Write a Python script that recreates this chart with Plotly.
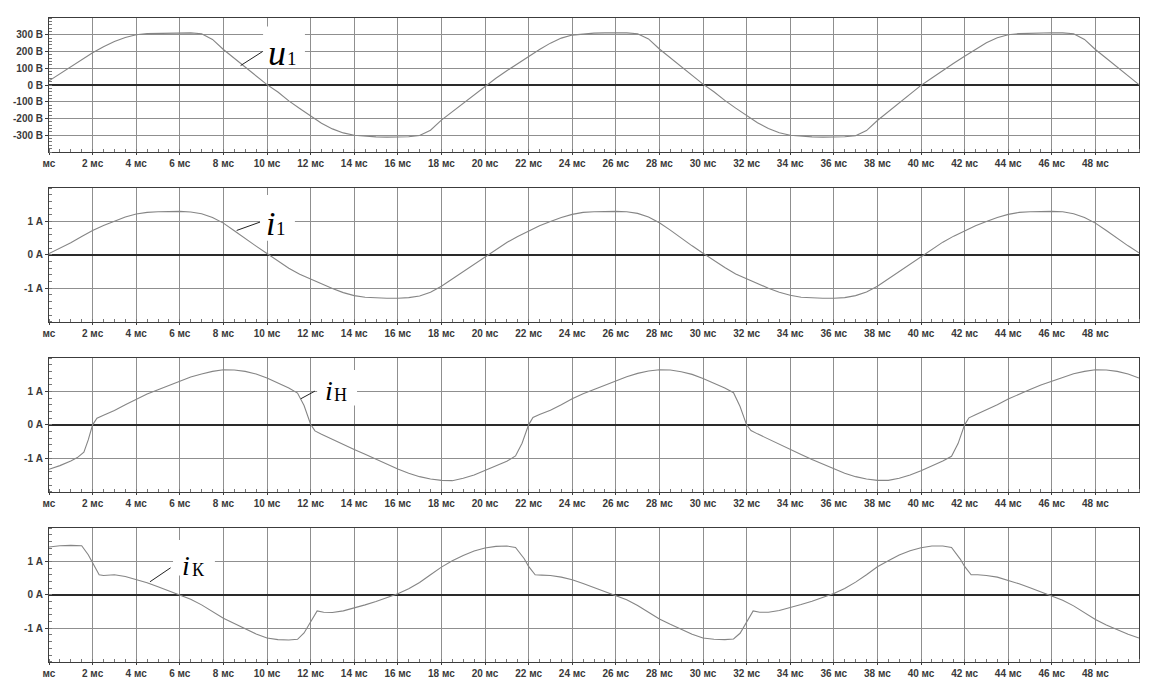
import plotly.graph_objects as go

# ---------------- data ----------------
t_u1 = [i * 0.5 for i in range(101)]
u1 = [25, 68, 110, 150, 192, 228, 260, 284, 300, 307, 309, 311, 312, 311, 306, 272, 212, 160, 110, 55,
      2, -42, -95, -140, -185, -228, -262, -286, -300, -307, -310, -311, -310, -309, -302, -270, -210, -160, -108, -55,
      -5, 40, 85, 128, 170, 212, 250, 280, 298, 306, 310, 311, 312, 311, 306, 275, 215, 162, 110, 58,
      5, -40, -92, -138, -182, -225, -260, -285, -300, -307, -310, -311, -310, -309, -303, -272, -212, -160, -108, -55,
      -2, 42, 88, 130, 172, 214, 252, 282, 300, 307, 310, 311, 312, 311, 306, 272, 212, 160, 108, 55, 2]

t_i1 = [i * 0.5 for i in range(101)]
i1 = [0.04, 0.19, 0.36, 0.55, 0.73, 0.88, 1.01, 1.13, 1.22, 1.27, 1.29, 1.30, 1.30, 1.28, 1.23, 1.12, 0.95, 0.72, 0.48, 0.26,
      0.04, -0.18, -0.40, -0.58, -0.73, -0.88, -1.01, -1.13, -1.22, -1.27, -1.29, -1.30, -1.30, -1.28, -1.23, -1.12, -0.94, -0.72, -0.50, -0.27,
      -0.05, 0.17, 0.37, 0.55, 0.71, 0.87, 1.00, 1.12, 1.21, 1.27, 1.29, 1.30, 1.30, 1.29, 1.24, 1.13, 0.96, 0.74, 0.50, 0.27,
      0.05, -0.17, -0.38, -0.57, -0.72, -0.87, -1.00, -1.12, -1.21, -1.27, -1.29, -1.30, -1.30, -1.28, -1.22, -1.11, -0.94, -0.72, -0.49, -0.27,
      -0.04, 0.18, 0.38, 0.56, 0.72, 0.87, 1.00, 1.12, 1.21, 1.27, 1.29, 1.30, 1.30, 1.29, 1.23, 1.12, 0.95, 0.73, 0.49, 0.27, 0.06]

t_ih = [0, 0.5, 1, 1.3, 1.6, 1.8, 2.0, 2.2, 2.5, 3, 3.5, 4, 4.5, 5, 5.5, 6, 6.5, 7, 7.5, 8, 8.5, 9, 9.5,
        10, 10.5, 11, 11.4, 11.7, 12.0, 12.2, 12.5, 13, 13.5, 14, 14.5, 15, 15.5, 16, 16.5, 17, 17.5, 18, 18.5, 19, 19.5,
        20, 20.5, 21, 21.4, 21.7, 22.0, 22.2, 22.5, 23, 23.5, 24, 24.5, 25, 25.5, 26, 26.5, 27, 27.5, 28, 28.5, 29, 29.5,
        30, 30.5, 31, 31.4, 31.7, 32.0, 32.2, 32.5, 33, 33.5, 34, 34.5, 35, 35.5, 36, 36.5, 37, 37.5, 38, 38.5, 39, 39.5,
        40, 40.5, 41, 41.4, 41.7, 42.0, 42.2, 42.5, 43, 43.5, 44, 44.5, 45, 45.5, 46, 46.5, 47, 47.5, 48, 48.5, 49, 49.5, 50]
ih = [-1.33, -1.22, -1.08, -0.98, -0.82, -0.45, 0.0, 0.20, 0.29, 0.43, 0.60, 0.77, 0.92, 1.05, 1.18, 1.31, 1.43, 1.52, 1.60, 1.65, 1.64, 1.60, 1.52,
      1.40, 1.26, 1.10, 0.95, 0.58, 0.02, -0.18, -0.28, -0.44, -0.60, -0.74, -0.88, -1.03, -1.18, -1.32, -1.45, -1.55, -1.62, -1.66, -1.67, -1.60, -1.50,
      -1.37, -1.23, -1.09, -0.93, -0.55, 0.0, 0.22, 0.31, 0.44, 0.60, 0.78, 0.93, 1.06, 1.20, 1.32, 1.44, 1.54, 1.61, 1.65, 1.64, 1.59, 1.51,
      1.39, 1.25, 1.10, 0.96, 0.55, 0.0, -0.17, -0.27, -0.43, -0.59, -0.74, -0.89, -1.04, -1.18, -1.32, -1.45, -1.55, -1.62, -1.66, -1.66, -1.60, -1.50,
      -1.37, -1.23, -1.08, -0.94, -0.56, 0.0, 0.21, 0.30, 0.44, 0.60, 0.77, 0.92, 1.06, 1.19, 1.31, 1.43, 1.53, 1.60, 1.65, 1.64, 1.60, 1.52, 1.40]

t_ik = [0, 0.5, 1, 1.5, 1.8, 2.0, 2.3, 2.5, 3, 3.5, 4, 4.5, 5, 5.5, 6, 6.5, 7, 7.5, 8, 8.5, 9, 9.5,
        10, 10.5, 11, 11.4, 11.7, 12.0, 12.3, 12.6, 13, 13.5, 14, 14.5, 15, 15.5, 16, 16.5, 17, 17.5, 18, 18.5, 19, 19.5,
        20, 20.5, 21, 21.4, 21.8, 22.0, 22.3, 22.6, 23, 23.5, 24, 24.5, 25, 25.5, 26, 26.5, 27, 27.5, 28, 28.5, 29, 29.5,
        30, 30.5, 31, 31.4, 31.7, 32.0, 32.3, 32.6, 33, 33.5, 34, 34.5, 35, 35.5, 36, 36.5, 37, 37.5, 38, 38.5, 39, 39.5,
        40, 40.5, 41, 41.4, 41.8, 42.0, 42.3, 42.6, 43, 43.5, 44, 44.5, 45, 45.5, 46, 46.5, 47, 47.5, 48, 48.5, 49, 49.5, 50]
ik = [1.43, 1.47, 1.48, 1.47, 1.20, 0.95, 0.60, 0.58, 0.60, 0.55, 0.46, 0.36, 0.24, 0.12, 0.0, -0.13, -0.30, -0.50, -0.70, -0.86, -1.02, -1.17,
      -1.29, -1.34, -1.35, -1.33, -1.14, -0.79, -0.48, -0.52, -0.53, -0.48, -0.40, -0.30, -0.20, -0.09, 0.03, 0.18, 0.37, 0.60, 0.83, 1.02, 1.18, 1.31,
      1.40, 1.45, 1.46, 1.42, 1.08, 0.85, 0.60, 0.59, 0.58, 0.53, 0.45, 0.34, 0.22, 0.10, -0.02, -0.15, -0.32, -0.52, -0.72, -0.88, -1.04, -1.18,
      -1.29, -1.33, -1.34, -1.32, -1.15, -0.80, -0.48, -0.52, -0.52, -0.47, -0.39, -0.29, -0.19, -0.08, 0.04, 0.19, 0.38, 0.60, 0.84, 1.02, 1.19, 1.32,
      1.41, 1.46, 1.46, 1.42, 1.07, 0.85, 0.60, 0.60, 0.58, 0.53, 0.44, 0.33, 0.21, 0.09, -0.03, -0.16, -0.33, -0.53, -0.74, -0.90, -1.05, -1.18, -1.29]

x_tickvals = list(range(0, 50, 2))
x_ticktext = ["мс"] + [f"{v} мс" for v in range(2, 50, 2)]
u_tickvals = [-300, -200, -100, 0, 100, 200, 300]
u_ticktext = ["-300 В", "-200 В", "-100 В", "0 В", "100 В", "200 В", "300 В"]
i_tickvals = [-1, 0, 1]
i_ticktext = ["-1 А", "0 А", "1 А"]

# ---------------- figure ----------------
W, H = 1159, 691
LINE = "#858585"
GRID = "#8f8f8f"
FRAME = "#3c3c3c"
TICKFONT = dict(family="Liberation Sans, Arial, sans-serif", size=10, color="#3a3a3a", weight="bold")

x_dom = [49 / W, 1139 / W]
panels_px = [(18, 152), (188, 321.7), (358, 491.7), (528, 661.7)]
y_doms = [[1 - b / H, 1 - t / H] for t, b in panels_px]

fig = go.Figure()
series = [(t_u1, u1), (t_i1, i1), (t_ih, ih), (t_ik, ik)]
for k, (tx, vy) in enumerate(series):
    sfx = "" if k == 0 else str(k + 1)
    fig.add_trace(go.Scatter(x=tx, y=vy, mode="lines", xaxis="x" + sfx, yaxis="y" + sfx,
                             line=dict(color=LINE, width=1.1), showlegend=False, hoverinfo="skip"))

layout = dict(width=W, height=H, margin=dict(l=0, r=0, t=0, b=0, autoexpand=False),
              paper_bgcolor="white", plot_bgcolor="white", showlegend=False)
for k in range(4):
    sfx = "" if k == 0 else str(k + 1)
    layout["xaxis" + sfx] = dict(
        domain=x_dom, anchor="y" + sfx, range=[0, 50], tickvals=x_tickvals, ticktext=x_ticktext,
        showgrid=True, gridcolor=GRID, gridwidth=1, zeroline=False, automargin=False,
        showline=True, linecolor=FRAME, linewidth=1, mirror=True,
        ticks="outside", ticklen=2, tickcolor=FRAME, tickfont=TICKFONT,
        minor=dict(dtick=0.5, ticks="inside", ticklen=3, tickcolor="#777", showgrid=False),
    )
    if k == 0:
        yr, tv, tt, md = [-400, 400], u_tickvals, u_ticktext, 20
    else:
        yr, tv, tt, md = [-2, 2], i_tickvals, i_ticktext, 0.2
    layout["yaxis" + sfx] = dict(
        domain=y_doms[k], anchor="x" + sfx, range=yr, tickvals=tv, ticktext=tt,
        showgrid=True, gridcolor=GRID, gridwidth=1, automargin=False,
        zeroline=True, zerolinecolor="#2a2a2a", zerolinewidth=1.6,
        showline=True, linecolor=FRAME, linewidth=1, mirror=True,
        ticks="outside", ticklen=3, tickcolor=FRAME, tickfont=TICKFONT,
        minor=dict(dtick=md, ticks="inside", ticklen=3, tickcolor="#777", showgrid=False),
    )
fig.update_layout(**layout)

# ---------------- curve labels ----------------
SERIF = "Liberation Serif, Times New Roman, serif"
labels = [
    # (axis suffix, box x0,x1,y0,y1, leader x0,y0,x1,y1, main letter, main x,y,size, sub, sub x,y,size)
    ("", (9.82, 11.74, 102, 349), (9.80, 200, 8.79, 116), "u", 10.46, 193, 36, "1", 11.16, 160, 19),
    ("2", (9.68, 11.28, 0.42, 1.79), (9.68, 0.98, 8.61, 0.73), "i", 10.18, 0.93, 34, "1", 10.66, 0.78, 19),
    ("3", (12.3, 14.13, 0.58, 1.64), (12.2, 1.01, 11.55, 0.78), "i", 12.84, 1.03, 28, "Н", 13.38, 0.90, 18),
    ("4", (5.69, 7.61, 0.58, 1.64), (5.58, 0.81, 4.63, 0.39), "i", 6.28, 0.88, 28, "К", 6.88, 0.75, 18),
]
for sfx, box, ld, mt, mx, my, ms, st, sx, sy, ss in labels:
    xr, yr = "x" + sfx, "y" + sfx
    fig.add_shape(type="rect", xref=xr, yref=yr, x0=box[0], x1=box[1], y0=box[2], y1=box[3],
                  fillcolor="white", line=dict(width=0), layer="between")
    fig.add_shape(type="line", xref=xr, yref=yr, x0=ld[0], y0=ld[1], x1=ld[2], y1=ld[3],
                  line=dict(color="#222", width=1), layer="above")
    fig.add_annotation(xref=xr, yref=yr, x=mx, y=my, text=f"<i>{mt}</i>", showarrow=False,
                       font=dict(family=SERIF, size=ms, color="black"), xanchor="center", yanchor="middle")
    fig.add_annotation(xref=xr, yref=yr, x=sx, y=sy, text=st, showarrow=False,
                       font=dict(family=SERIF, size=ss, color="black"), xanchor="center", yanchor="middle")

fig.write_html("out.html", config={"displayModeBar": False},
               post_script="document.body.style.margin='0';document.body.style.padding='0';")
